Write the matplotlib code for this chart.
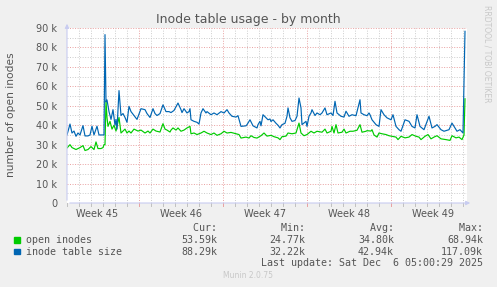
import matplotlib
matplotlib.use("Agg")
import matplotlib.pyplot as plt
import numpy as np

# ---- data (hours since start of window, values in k inodes) ----
size_hours = [0, 6, 10, 14, 18, 22, 26, 32, 36, 42, 46, 50, 54, 60, 64, 74, 76, 78, 80, 84,
              88, 92, 96, 98, 100, 104, 108, 112, 116, 120, 124, 128, 134, 140, 148, 156, 160, 166, 172, 176,
              180, 186, 192, 198, 204, 208, 214, 222, 228, 230, 234, 240, 244, 246, 248, 254, 260, 264, 268, 272,
              278, 280, 288, 294, 300, 308, 314, 320, 324, 330, 338, 342, 348, 358, 360, 366, 372, 380, 382, 386,
              388, 392, 398, 402, 406, 408, 412, 418, 422, 426, 430, 436, 440, 442, 446, 450, 456, 460, 464, 468,
              470, 478, 480, 484, 488, 490, 496, 500, 506, 510, 516, 520, 528, 532, 536, 540, 548, 554, 558, 564,
              570, 578, 586, 588, 594, 600, 604, 606, 610, 618, 624, 628, 634, 640, 648, 652, 658, 664, 668, 676,
              684, 690, 696, 700, 706, 714, 724, 730, 736, 740, 748, 754, 764, 770, 776, 780, 786, 792, 796]
size_vals = [35, 40.6, 36, 37, 34.3, 36, 35, 39.8, 34.5, 34.5, 35, 39.5, 35, 39.5, 35, 35, 86.6, 52, 53, 47,
             43, 48, 40, 43, 38, 57.8, 45, 46, 44, 41.5, 49.7, 47, 45, 43, 48.5, 48, 46, 44, 48.5, 46,
             45, 46, 50.5, 47, 47, 46.5, 47.6, 51.4, 48, 46.5, 48.5, 46.3, 47, 48.5, 42.8, 42, 41.5, 40.6, 46.3, 48.5,
             46.3, 47, 45.4, 46.3, 45.4, 47, 46.3, 48, 46.3, 44.6, 44.2, 44.9, 39.4, 39.7, 40.3, 42.8, 39.7, 38.6, 40.3, 42,
             39.7, 45.4, 43.8, 42.8, 43.2, 41.9, 42.8, 41, 40, 38.6, 40.3, 41, 44.6, 48.9, 43.8, 42, 42.4, 44.6, 54, 48.9,
             40.3, 42, 39.4, 44.6, 46.3, 48, 45, 46.3, 45.4, 46.3, 48.9, 45.4, 46.3, 45, 52.3, 46.3, 44.6, 44.2, 47.2, 44.6,
             45.4, 44.9, 53.1, 46.3, 45.4, 44.9, 46.3, 45.4, 42.8, 40.3, 39.4, 48, 45.4, 43.8, 42.8, 45.4, 39.4, 37.7, 36.9, 42.8,
             42, 39.4, 38.6, 45.4, 39.4, 37.7, 44.6, 38.6, 39.4, 40.3, 37.7, 36.9, 37.7, 41.1, 38.6, 36.9, 37.7, 36, 88.3]

open_hours = [0, 6, 10, 14, 18, 22, 26, 32, 36, 42, 48, 54, 58, 62, 68, 72, 74, 76, 78, 80,
              82, 86, 90, 94, 98, 104, 108, 112, 116, 120, 124, 128, 134, 142, 148, 156, 162, 166, 172, 178,
              186, 192, 196, 200, 206, 208, 212, 218, 222, 228, 234, 240, 246, 248, 254, 260, 268, 274, 280, 288,
              294, 300, 308, 314, 320, 328, 338, 344, 348, 358, 364, 368, 374, 380, 388, 394, 400, 408, 414, 422,
              426, 430, 438, 442, 450, 458, 464, 468, 474, 480, 488, 494, 500, 510, 516, 520, 528, 530, 534, 538,
              542, 550, 554, 558, 566, 572, 580, 586, 590, 598, 600, 608, 610, 614, 620, 624, 630, 638, 644, 650,
              658, 662, 668, 676, 684, 690, 698, 704, 708, 716, 722, 728, 734, 740, 748, 758, 766, 770, 778, 784,
              790, 794, 796]
open_vals = [28.3, 30, 28.5, 28, 27.5, 28, 28.5, 29.5, 27, 27.5, 29, 27.5, 31.4, 28, 28, 28.5, 30, 30, 52.6, 44,
             39.4, 42, 38, 40, 37, 44, 36, 37, 38, 36, 37, 36, 38, 37, 37.5, 36, 37, 36, 38, 37,
             36.5, 40.8, 38, 37.5, 36.5, 37.5, 38.6, 37.5, 38.6, 36.9, 37.5, 38.6, 39.4, 35.6, 36, 35.2, 36, 36.9, 36, 35.2,
             36, 34.8, 35.6, 36.9, 36, 36.3, 35.6, 35.2, 33.4, 33.9, 33.4, 34.6, 33.7, 33.4, 34.6, 36, 34.4, 34.8, 34.1, 33.5,
             32.6, 34.1, 34.4, 36, 35.6, 36, 41.1, 36, 34.6, 35.2, 36.9, 36, 36.9, 36.4, 38, 36, 36.9, 39.4, 36, 40.3,
             36, 36.4, 38, 36, 36.9, 36.9, 37.4, 40.3, 36.4, 36.9, 37.2, 37, 37.7, 35, 33.9, 36, 35.6, 35.2, 34.6, 34.3,
             33.9, 32.6, 34.3, 33.5, 33.9, 35.2, 34.3, 33.9, 32.6, 34.3, 35.2, 33, 33.9, 34.6, 33, 32.6, 32.2, 34.6, 33.5, 33.9,
             32.6, 35, 53.6]

week_labels = ["Week 45", "Week 46", "Week 47", "Week 48", "Week 49"]
week_bounds = [144, 312, 480, 648]

legend_names = ["open inodes", "inode table size"]
legend_colors = ["#00CC00", "#0066B3"]
stat_heads = ["Cur:", "Min:", "Avg:", "Max:"]
stat_rows = [["53.59k", "24.77k", "34.80k", "68.94k"],
             ["88.29k", "32.22k", "42.94k", "117.09k"]]

W, H = 497, 287
BG = "#F0F0F0"
TXT = "#555555"

fig = plt.figure(figsize=(W / 100, H / 100), dpi=100, facecolor=BG)
ax = fig.add_axes([67 / W, 84 / H, 400 / W, 175 / H])
ax.set_facecolor("white")

ax.plot(open_hours, np.array(open_vals) * 1000, color=legend_colors[0], lw=0.85, zorder=3)
ax.plot(size_hours, np.array(size_vals) * 1000, color=legend_colors[1], lw=0.85, zorder=4)

ax.set_xlim(0, 800)
ax.set_ylim(0, 90000)

# grid: minor gray dotted, major red dotted
dots = (0, (1, 1.6))
for h in range(24, 800, 24):
    if h in week_bounds:
        continue
    ax.axvline(h, color="#CCCCCC", lw=0.7, ls=dots, zorder=1)
for h in week_bounds:
    ax.axvline(h, color="#E8A0A0", lw=0.7, ls=dots, zorder=2)
for v in range(5000, 90001, 10000):
    ax.axhline(v, color="#CCCCCC", lw=0.7, ls=dots, zorder=1)
for v in range(10000, 90001, 10000):
    ax.axhline(v, color="#E8A0A0", lw=0.7, ls=dots, zorder=2)

for s in ax.spines.values():
    s.set_visible(False)

ax.set_yticks(range(0, 90001, 10000))
ax.set_yticklabels(["0"] + [f"{v} k" for v in range(10, 91, 10)])
ax.set_yticks(range(5000, 90000, 10000), minor=True)
ax.set_xticks([h + 84 - 168 for h in [144, 312, 480, 648, 816]])
ax.set_xticklabels(week_labels)
ax.tick_params(axis="both", which="both", length=0, labelsize=7, colors=TXT)
ax.tick_params(axis="y", pad=7)
ax.tick_params(axis="x", pad=4)

# axis lines with arrows
ax.annotate("", xy=(0, 1.04), xytext=(0, 0), xycoords="axes fraction",
            arrowprops=dict(arrowstyle="-|>", color="#C8CCF0", lw=0.8, mutation_scale=6), zorder=5)
ax.annotate("", xy=(1.015, 0), xytext=(0, 0), xycoords="axes fraction",
            arrowprops=dict(arrowstyle="-|>", color="#C8CCF0", lw=0.8, mutation_scale=6), zorder=5)

# small tick marks below x axis
for h in range(0, 800, 24):
    c = "#E8A0A0" if h in week_bounds else "#C0C0C0"
    ax.plot([h, h], [0, -1500], color=c, lw=0.7, clip_on=False)

fig.text(248 / W, 1 - 19 / H, "Inode table usage - by month", ha="center", va="center",
         fontsize=9, color=TXT)
fig.text(11 / W, 1 - 115 / H, "number of open inodes", rotation=90, ha="center", va="center",
         fontsize=7.7, color=TXT)
fig.text(487 / W, 1 - 5 / H, "RRDTOOL / TOBI OETIKER", rotation=270, ha="center", va="top",
         fontsize=5.5, color="#C8C8C8")

mono = "DejaVu Sans Mono"
col_right = [217, 305, 394, 483]
for x, head in zip(col_right, stat_heads):
    fig.text(x / W, 1 - 228 / H, head.rjust(6) if head != "Max:" else head.rjust(7),
             ha="right", va="center", fontsize=7.2, family=mono, color=TXT)
for i, (name, color, row) in enumerate(zip(legend_names, legend_colors, stat_rows)):
    y = 240 + i * 11.7
    fig.patches.append(plt.Rectangle((14 / W, 1 - (y + 2.6) / H), 5.5 / W, 5.5 / H,
                                     transform=fig.transFigure, color=color, figure=fig))
    fig.text(26.5 / W, 1 - y / H, name, ha="left", va="center", fontsize=7.2, family=mono, color=TXT)
    for x, val in zip(col_right, row):
        fig.text(x / W, 1 - y / H, val, ha="right", va="center", fontsize=7.2, family=mono, color=TXT)

fig.text(483 / W, 1 - 263.3 / H, "Last update: Sat Dec  6 05:00:29 2025", ha="right", va="center",
         fontsize=7.2, family=mono, color=TXT)
fig.text(248 / W, 1 - 276 / H, "Munin 2.0.75", ha="center", va="center", fontsize=5.5, color="#C8C8C8")

fig.savefig("out.png", dpi=100, facecolor=BG)
